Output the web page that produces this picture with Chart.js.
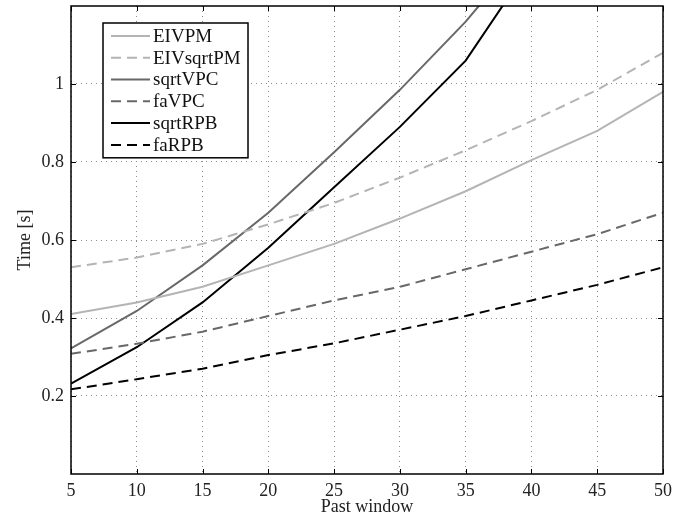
<!DOCTYPE html>
<html>
<head>
<meta charset="utf-8">
<script src="https://cdn.jsdelivr.net/npm/chart.js@4.4.1/dist/chart.umd.min.js"></script>
<style>
  html, body { margin: 0; padding: 0; background: #fff; }
  #wrap { width: 695px; height: 518px; }
</style>
</head>
<body>
<div id="wrap"><canvas id="timeChart" width="695" height="518"></canvas></div>
<script>
// past window sizes (x axis)
const pastWindow = [5, 10, 15, 20, 25, 30, 35, 40, 45, 50];

// computation time [s] per method
const eivpm     = [0.41, 0.44, 0.48, 0.535, 0.59, 0.655, 0.725, 0.805, 0.88, 0.98];
const eivSqrtPm = [0.53, 0.555, 0.59, 0.64, 0.695, 0.76, 0.83, 0.905, 0.985, 1.08];
const sqrtVpc   = [0.322, 0.418, 0.535, 0.67, 0.825, 0.985, 1.16, 1.36, null, null];
const faVpc     = [0.308, 0.334, 0.365, 0.405, 0.445, 0.48, 0.525, 0.57, 0.615, 0.67];
const sqrtRpb   = [0.232, 0.325, 0.44, 0.58, 0.735, 0.89, 1.06, 1.31, null, null];
const faRpb     = [0.217, 0.243, 0.27, 0.305, 0.335, 0.37, 0.405, 0.445, 0.485, 0.53];

const yTicks = [0.2, 0.4, 0.6, 0.8, 1];

const serif = '"Liberation Serif", "DejaVu Serif", serif';
const dash = [10, 6];

function series(label, values, color, dashed) {
    return {
        label: label,
        data: pastWindow.map((x, i) => ({ x: x, y: values[i] })),
        borderColor: color,
        backgroundColor: color,
        borderWidth: 2,
        borderDash: dashed ? dash : [],
        pointRadius: 0,
        tension: 0,
        clip: 0
    };
}

// axes box, inward ticks and boxed legend like the matlab figure
const matlabLook = {
    id: 'matlabLook',
    afterDatasetsDraw(chart) {
        const ctx = chart.ctx;
        const a = chart.chartArea;
        const xs = chart.scales.x;
        const ys = chart.scales.y;
        ctx.save();
        ctx.strokeStyle = '#000';
        ctx.lineWidth = 1;
        ctx.setLineDash([]);
        ctx.beginPath();
        pastWindow.forEach(v => {
            const px = Math.round(xs.getPixelForValue(v)) + 0.5;
            ctx.moveTo(px, a.bottom); ctx.lineTo(px, a.bottom - 5);
            ctx.moveTo(px, a.top); ctx.lineTo(px, a.top + 5);
        });
        yTicks.forEach(v => {
            const py = Math.round(ys.getPixelForValue(v)) + 0.5;
            ctx.moveTo(a.left, py); ctx.lineTo(a.left + 5, py);
            ctx.moveTo(a.right, py); ctx.lineTo(a.right - 5, py);
        });
        ctx.stroke();
        ctx.lineWidth = 1.5;
        ctx.strokeRect(a.left, a.top, a.right - a.left, a.bottom - a.top);

        // legend
        const lx = a.left + 32, ly = a.top + 17, lw = 145, rowH = 21.8;
        const rows = chart.data.datasets.length;
        ctx.fillStyle = '#fff';
        ctx.fillRect(lx, ly, lw, rows * rowH + 4);
        ctx.lineWidth = 1.5;
        ctx.strokeStyle = '#000';
        ctx.strokeRect(lx, ly, lw, rows * rowH + 4);
        ctx.font = '19px ' + serif;
        ctx.textBaseline = 'middle';
        chart.data.datasets.forEach((ds, i) => {
            const cy = ly + 2 + rowH * (i + 0.5);
            ctx.strokeStyle = ds.borderColor;
            ctx.lineWidth = ds.borderWidth;
            ctx.setLineDash(ds.borderDash);
            ctx.beginPath();
            ctx.moveTo(lx + 8, cy);
            ctx.lineTo(lx + 47, cy);
            ctx.stroke();
            ctx.fillStyle = '#111';
            ctx.fillText(ds.label, lx + 50, cy + 1);
        });
        ctx.restore();
    }
};

const gridStyle = { color: '#8c8c8c', lineWidth: 1, drawTicks: false };
const noBorder = { display: false, dash: [1, 4] };

const ctx = document.getElementById('timeChart').getContext('2d');
const timeChart = new Chart(ctx, {
    type: 'line',
    data: {
        datasets: [
            series('EIVPM', eivpm, '#b4b4b4', false),
            series('EIVsqrtPM', eivSqrtPm, '#b4b4b4', true),
            series('sqrtVPC', sqrtVpc, '#686868', false),
            series('faVPC', faVpc, '#686868', true),
            series('sqrtRPB', sqrtRpb, '#000000', false),
            series('faRPB', faRpb, '#000000', true)
        ]
    },
    options: {
        responsive: false,
        animation: false,
        layout: { padding: { top: 6, right: 32, bottom: 0, left: 0 } },
        plugins: {
            legend: { display: false },
            tooltip: { enabled: false }
        },
        scales: {
            x: {
                type: 'linear',
                min: 5,
                max: 50,
                afterBuildTicks: s => { s.ticks = pastWindow.map(v => ({ value: v })); },
                afterFit: s => { s.height = 44; s.paddingLeft = 0; s.paddingRight = 0; },
                border: noBorder,
                grid: gridStyle,
                ticks: {
                    color: '#222',
                    padding: 6,
                    maxRotation: 0,
                    font: { family: serif, size: 18 }
                },
                title: {
                    display: true,
                    text: 'Past window',
                    color: '#222',
                    padding: { top: -4, bottom: 0 },
                    font: { family: serif, size: 18 }
                }
            },
            y: {
                min: 0,
                max: 1.2,
                afterBuildTicks: s => { s.ticks = yTicks.map(v => ({ value: v })); },
                afterFit: s => { s.width = 71; s.paddingTop = 0; s.paddingBottom = 0; },
                border: noBorder,
                grid: gridStyle,
                ticks: {
                    color: '#222',
                    padding: 7,
                    font: { family: serif, size: 18 },
                    callback: v => String(v)
                },
                title: {
                    display: true,
                    text: 'Time [s]',
                    color: '#222',
                    padding: { top: 14, bottom: 0 },
                    font: { family: serif, size: 18 }
                }
            }
        }
    },
    plugins: [matlabLook]
});
</script>
</body>
</html>
